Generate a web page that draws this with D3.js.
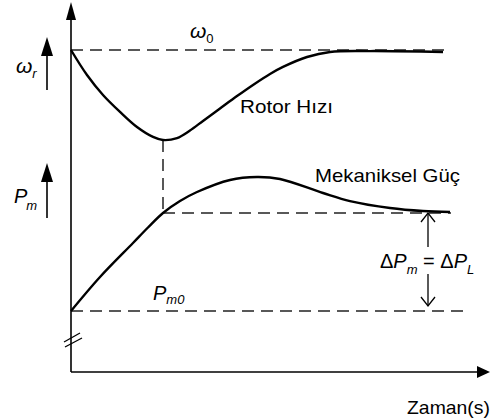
<!DOCTYPE html>
<html>
<head>
<meta charset="utf-8">
<script src="https://cdn.jsdelivr.net/npm/d3@7"></script>
<style>
  html, body { margin: 0; padding: 0; background: #fff; }
  svg { display: block; }
</style>
</head>
<body>
<svg id="chart" width="490" height="420"></svg>
<script>
// Time samples (s) for each response
const speedTime = [0, 0.4, 0.8, 1.225, 1.65, 2.05, 2.3, 2.65, 2.975, 3.3, 3.725, 4.15, 4.55, 4.975, 5.3, 5.9, 6.475, 7.475, 9.3];
// Rotor speed (per unit), starting from the synchronous speed ω0 = 1
const speedValues = [1.0, 0.9861, 0.975, 0.9656, 0.9572, 0.9517, 0.95, 0.9511, 0.9553, 0.9606, 0.9675, 0.9744, 0.9806, 0.9867, 0.9906, 0.9961, 0.9989, 0.9994, 0.9989];

const powerTime = [0, 0.725, 1.55, 1.925, 2.3, 2.725, 3.15, 3.975, 4.65, 5.225, 6.3, 6.975, 7.975, 8.8, 9.475];
// Mechanical power (per unit), rising from Pm0 towards Pm0 + ΔPL
const powerValues = [0.5, 0.5347, 0.5694, 0.5852, 0.6, 0.6122, 0.6214, 0.6337, 0.6367, 0.6347, 0.6204, 0.6122, 0.6051, 0.602, 0.601];

// Reference levels
const omega0 = 1.0;
const pm0 = 0.5;
const pmFinal = 0.6;
const tSpeedMin = 2.3;

const FONT = "'Liberation Sans', Arial, sans-serif";
const svg = d3.select("#chart");

const x = d3.scaleLinear().domain([0, 10]).range([71, 471]);
const ySpeed = d3.scaleLinear().domain([0.95, 1.0]).range([140, 50]);
const yPower = d3.scaleLinear().domain([0.5, 0.6]).range([311, 213]);

const axisY = 372;
const x0 = x(0);

// dashed reference lines
function dashed(x1, y1, x2, y2) {
  svg.append("line")
    .attr("x1", x1).attr("y1", y1).attr("x2", x2).attr("y2", y2)
    .attr("stroke", "#222").attr("stroke-width", 1.5)
    .attr("stroke-dasharray", "12,7");
}
dashed(x0, ySpeed(omega0), x(9.5), ySpeed(omega0));
dashed(x(tSpeedMin), yPower(pmFinal), x(9.5), yPower(pmFinal));
dashed(x0, yPower(pm0), x(9.97), yPower(pm0));
dashed(x(tSpeedMin), ySpeed(d3.min(speedValues)), x(tSpeedMin), yPower(pmFinal));

// axes
svg.append("line").attr("x1", x0).attr("y1", axisY).attr("x2", x0).attr("y2", 18)
  .attr("stroke", "#000").attr("stroke-width", 1.6);
svg.append("line").attr("x1", x0).attr("y1", axisY).attr("x2", 480).attr("y2", axisY)
  .attr("stroke", "#000").attr("stroke-width", 1.6);
svg.append("path").attr("d", `M${x0},2 L${x0 - 5},20 L${x0 + 5},20 Z`).attr("fill", "#000");
svg.append("path").attr("d", `M490,${axisY} L477,${axisY - 6} L477,${axisY + 6} Z`).attr("fill", "#000");

// axis break marks
svg.append("line").attr("x1", 64).attr("y1", 342).attr("x2", 80).attr("y2", 333)
  .attr("stroke", "#000").attr("stroke-width", 1.3);
svg.append("line").attr("x1", 65).attr("y1", 347).attr("x2", 82).attr("y2", 338)
  .attr("stroke", "#000").attr("stroke-width", 1.3);

// quantity arrows on the left
function upArrow(cx, tip, end) {
  svg.append("line").attr("x1", cx).attr("y1", tip + 10).attr("x2", cx).attr("y2", end)
    .attr("stroke", "#000").attr("stroke-width", 1.6);
  svg.append("path").attr("d", `M${cx},${tip} L${cx - 6},${tip + 19} L${cx + 6},${tip + 19} Z`)
    .attr("fill", "#000");
}
upArrow(47, 37, 90);
upArrow(47, 163, 218);

// response curves
const line = d3.line().curve(d3.curveCatmullRom.alpha(0.5));
svg.append("path")
  .attr("d", line(speedTime.map((t, i) => [x(t), ySpeed(speedValues[i])])))
  .attr("fill", "none").attr("stroke", "#000").attr("stroke-width", 2.4);
svg.append("path")
  .attr("d", line(powerTime.map((t, i) => [x(t), yPower(powerValues[i])])))
  .attr("fill", "none").attr("stroke", "#000").attr("stroke-width", 2.4);

// ΔP double arrow
const ax = 428;
const topY = yPower(pmFinal), botY = yPower(pm0);
svg.append("line").attr("x1", ax).attr("y1", topY).attr("x2", ax).attr("y2", 247)
  .attr("stroke", "#000").attr("stroke-width", 1.3);
svg.append("path").attr("d", `M${ax - 7},${topY + 9} L${ax},${topY} L${ax + 7},${topY + 9}`)
  .attr("fill", "none").attr("stroke", "#000").attr("stroke-width", 1.3);
svg.append("line").attr("x1", ax).attr("y1", 274).attr("x2", ax).attr("y2", botY - 5)
  .attr("stroke", "#000").attr("stroke-width", 1.3);
svg.append("path").attr("d", `M${ax - 7},${botY - 14} L${ax},${botY - 5} L${ax + 7},${botY - 14}`)
  .attr("fill", "none").attr("stroke", "#000").attr("stroke-width", 1.3);

// labels: each part is [string, size, italic, dx, dy]
function label(xp, yp, parts) {
  const t = svg.append("text").attr("x", xp).attr("y", yp)
    .attr("font-family", FONT).attr("fill", "#000");
  parts.forEach(([s, size, italic, dx, dy]) => {
    t.append("tspan").attr("font-size", size)
      .attr("font-style", italic ? "italic" : "normal")
      .attr("dx", dx || 0).attr("dy", dy || 0).text(s);
  });
  return t;
}
label(190, 38, [["ω", 21, true], ["0", 13, false, 0, 5]]);
label(16, 73, [["ω", 21, true], ["r", 13, true, 0, 5]]);
label(14, 203, [["P", 20, true], ["m", 13, true, -1, 7]]);
label(153, 300, [["P", 20, true], ["m0", 13, true, 0, 4]]);
label(380, 268, [["Δ", 20, false], ["P", 20, true], ["m", 13, true, 0, 6],
                 [" = ", 20, false, 0, -6], ["Δ", 20, false], ["P", 20, true], ["L", 13, true, 0, 6]]);

function plain(xp, yp, s, len) {
  svg.append("text").attr("x", xp).attr("y", yp).attr("font-family", FONT)
    .attr("font-size", 19).attr("fill", "#000")
    .attr("textLength", len).attr("lengthAdjust", "spacingAndGlyphs").text(s);
}
plain(240, 113, "Rotor Hızı", 93);
plain(315, 182, "Mekaniksel Güç", 145);
plain(407, 414, "Zaman(s)", 83);
</script>
</body>
</html>
